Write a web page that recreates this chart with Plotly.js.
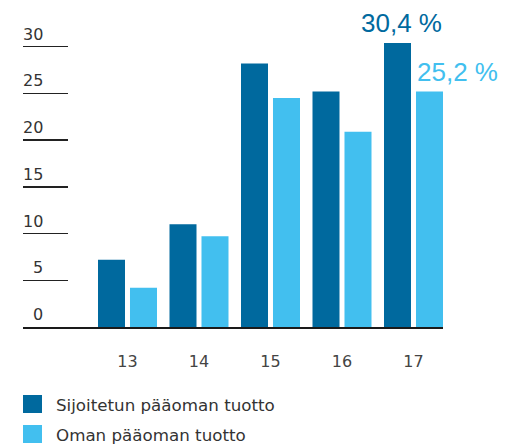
<!DOCTYPE html>
<html>
<head>
<meta charset="utf-8">
<script src="https://cdn.plot.ly/plotly-3.0.1.min.js"></script>
<style>
  html, body { margin: 0; padding: 0; background: #fff; }
  #chart { width: 508px; height: 446px; }
</style>
</head>
<body>
<div id="chart"></div>
<script>
var years = ['13', '14', '15', '16', '17'];
var sijoitettu = [7.2, 11.0, 28.2, 25.2, 30.4];
var oma = [4.2, 9.7, 24.5, 20.9, 25.2];
var yTicks = [0, 5, 10, 15, 20, 25, 30];
var seriesNames = ['Sijoitetun pääoman tuotto', 'Oman pääoman tuotto'];

var darkBlue = '#00699e';
var lightBlue = '#42bfef';
var textGrey = '#333333';
var smallFont = '"DejaVu Sans", Roboto, sans-serif';
var bigFont = '"Liberation Sans", Arial, sans-serif';

var trace1 = {
  x: years,
  y: sijoitettu,
  name: seriesNames[0],
  type: 'bar',
  marker: {color: darkBlue},
  hoverinfo: 'none'
};
var trace2 = {
  x: years,
  y: oma,
  name: seriesNames[1],
  type: 'bar',
  marker: {color: lightBlue},
  hoverinfo: 'none'
};

// plot area in pixels: left 23, right 443, top 28, bottom 327
var plotH = 299, plotW = 420;
function py(pix) { return (327 - pix) / plotH; }
function px(pix) { return (pix - 23) / plotW; }

var annotations = [];
// y tick labels sit above the short tick lines
yTicks.forEach(function (v) {
  annotations.push({
    x: px(45), xref: 'paper', xanchor: 'right',
    y: v, yref: 'y', yanchor: 'bottom', yshift: 1,
    text: String(v), showarrow: false,
    font: {family: smallFont, size: 16, color: textGrey}
  });
});

// last-year value labels (x as category index, '17' would be read as a number)
var last = years.length - 1;
annotations.push({
  x: last, xref: 'x', xanchor: 'right', xshift: 30,
  y: sijoitettu[last], yref: 'y', yanchor: 'bottom', yshift: 3,
  text: sijoitettu[last].toFixed(1).replace('.', ',') + ' %',
  showarrow: false, font: {family: bigFont, size: 26, color: darkBlue}
});
annotations.push({
  x: last, xref: 'x', xanchor: 'left', xshift: 1,
  y: oma[last], yref: 'y', yanchor: 'bottom', yshift: 3,
  text: oma[last].toFixed(1).replace('.', ',') + ' %',
  showarrow: false, font: {family: bigFont, size: 26, color: lightBlue}
});

// hand-drawn legend
var legendColors = [darkBlue, lightBlue];
var legendRows = [395, 425];
var shapes = [];
seriesNames.forEach(function (name, i) {
  var top = legendRows[i];
  shapes.push({
    type: 'rect', xref: 'paper', yref: 'paper',
    x0: px(23), x1: px(42), y0: py(top), y1: py(top + 18),
    fillcolor: legendColors[i], line: {width: 0}
  });
  annotations.push({
    x: px(54), xref: 'paper', xanchor: 'left',
    y: py(top + 10), yref: 'paper', yanchor: 'middle',
    text: name, showarrow: false,
    font: {family: smallFont, size: 16.7, color: textGrey}
  });
});

var layout = {
  width: 508, height: 446,
  margin: {l: 23, r: 65, t: 28, b: 119},
  paper_bgcolor: '#fff', plot_bgcolor: '#fff',
  font: {family: smallFont, size: 16, color: textGrey},
  showlegend: false,
  barmode: 'group',
  bargap: 0.105,
  bargroupgap: 0.156,
  xaxis: {
    type: 'category',
    range: [-1.4615, 4.4126],
    showgrid: false, zeroline: false,
    showline: true, linecolor: '#1a1a1a', linewidth: 2,
    ticks: 'outside', ticklen: 19, tickcolor: 'rgba(0,0,0,0)',
    tickfont: {family: smallFont, size: 16, color: '#444'}
  },
  yaxis: {
    range: [0, 32],
    showgrid: false, zeroline: false, showline: false,
    tickmode: 'array', tickvals: yTicks,
    ticks: 'inside', ticklen: 45, tickwidth: 1.5, tickcolor: '#222',
    showticklabels: false
  },
  shapes: shapes,
  annotations: annotations
};

var config = {displayModeBar: false, staticPlot: true};

Plotly.newPlot('chart', [trace1, trace2], layout, config);
</script>
</body>
</html>
